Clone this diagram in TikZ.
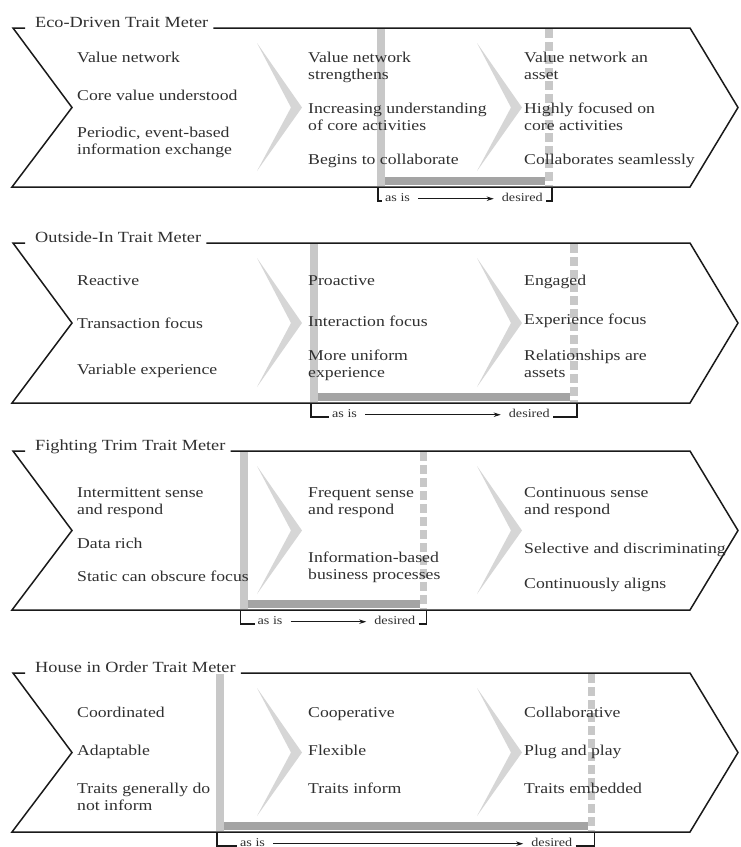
\documentclass[tikz,border=0pt]{standalone}
\usepackage{fontspec}
\setmainfont{Liberation Serif}[FakeStretch=1.18]
\usetikzlibrary{arrows.meta,calc}

\definecolor{inkline}{HTML}{1A1A1A}
\definecolor{inktext}{HTML}{303030}
\definecolor{chevgray}{HTML}{D6D6D6}
\definecolor{barlight}{HTML}{C8C8C8}
\definecolor{bardark}{HTML}{A4A4A4}

\tikzset{
  frame/.style={draw=inkline, line width=1.5pt, line join=miter},
  chev/.style={fill=chevgray},
  asisbar/.style={fill=barlight},
  spanbar/.style={fill=bardark},
  desiredbar/.style={draw=barlight, line width=7.5pt, dash pattern=on 9pt off 4pt},
  bracketline/.style={draw=inkline, line width=1.4pt},
  progress/.style={draw=inkline, line width=1.3pt, -{Stealth[length=7pt,width=4.5pt]}},
  metertitle/.style={anchor=base west, inner sep=0pt, text=inktext, font=\fontsize{15.5}{18}\selectfont},
  % the base of a two-line entry is the baseline of its last line
  trait/.style={anchor=base west, inner sep=0pt, align=left, text=inktext, font=\fontsize{15}{17.5}\selectfont},
  meterlabel/.style={inner sep=0pt, text=inktext, font=\fontsize{12}{14}\selectfont},
}

% One trait meter: outline, chevrons, as-is bar and the as is -> desired bracket.
% #1 name, #2 top, #3 bottom, #4 title, #5 as-is x, #6 desired x, #7 left gap, #8 right gap
\newcommand\meterframe[8]{%
  \node[metertitle] (#1title) at (35,{#2-1}) {#4};
  \draw[frame] ($(#1title.base east)+(5,1)$) -- (690,#2) -- (738,{(#2+#3)/2})
    -- (690,#3) -- (12,#3) -- (72,{(#2+#3)/2}) -- (13,#2) -- (25,#2);
  \fill[chev] (257,{#2+15}) -- (302,{(#2+#3)/2}) -- (257,{#3-16}) -- (291,{(#2+#3)/2}) -- cycle;
  \fill[chev] (477,{#2+15}) -- (522,{(#2+#3)/2}) -- (477,{#3-16}) -- (511,{(#2+#3)/2}) -- cycle;
  \fill[asisbar] ({#5-4},{#2+1}) rectangle ({#5+4},{#3-1});
  \fill[spanbar] ({#5+4},{#3-10}) rectangle ({#6-4},{#3-2});
  \draw[desiredbar] (#6,{#2+1}) -- (#6,{#3-1});
  \node[meterlabel, anchor=base west] (#1asis) at ({#5-3+#7},{#3+14}) {as is};
  \node[meterlabel, anchor=base east] (#1desired) at ({#6+3-#8},{#3+14}) {desired};
  \draw[bracketline] ({#5-3},{#3+1}) -- ({#5-3},{#3+14}) -- ([xshift=-3pt]#1asis.base west);
  \draw[bracketline] ([xshift=3pt]#1desired.base east) -- ({#6+3},{#3+14}) -- ({#6+3},{#3+1});
  \draw[progress] ([xshift=8pt]#1asis.mid east) -- ([xshift=-8pt]#1desired.mid west);
}

\begin{document}
\begin{tikzpicture}[x=1pt,y=-1pt]
\fill[white] (0,0) rectangle (740,847);
\useasboundingbox (0,0) rectangle (740,847);

% Eco-Driven
\meterframe{p1}{28}{187}{Eco-Driven Trait Meter}{381}{549}{7}{9}
\node[trait] (p1a) at (77,62)  {Value network};
\node[trait] (p1b) at (77,100) {Core value understood};
\node[trait] (p1c) at (77,154.5) {Periodic, event-based\\information exchange};
\node[trait] (p1d) at (308,79.5)  {Value network\\strengthens};
\node[trait] (p1e) at (308,130.5) {Increasing understanding\\of core activities};
\node[trait] (p1f) at (308,164) {Begins to collaborate};
\node[trait] (p1g) at (524,79.5)  {Value network an\\asset};
\node[trait] (p1h) at (524,130.5) {Highly focused on\\core activities};
\node[trait] (p1i) at (524,164) {Collaborates seamlessly};

% Outside-In
\meterframe{p2}{243}{403}{Outside-In Trait Meter}{314}{574}{21}{27}
\node[trait] (p2a) at (77,285) {Reactive};
\node[trait] (p2b) at (77,328) {Transaction focus};
\node[trait] (p2c) at (77,374) {Variable experience};
\node[trait] (p2d) at (308,285) {Proactive};
\node[trait] (p2e) at (308,326) {Interaction focus};
\node[trait] (p2f) at (308,377.5) {More uniform\\experience};
\node[trait] (p2g) at (524,285) {Engaged};
\node[trait] (p2h) at (524,324) {Experience focus};
\node[trait] (p2i) at (524,377.5) {Relationships are\\assets};

% Fighting Trim
\meterframe{p3}{451}{610}{Fighting Trim Trait Meter}{243.5}{423.5}{17}{11}
\node[trait] (p3a) at (77,514.5) {Intermittent sense\\and respond};
\node[trait] (p3b) at (77,548) {Data rich};
\node[trait] (p3c) at (77,581) {Static can obscure focus};
\node[trait] (p3d) at (308,514.5) {Frequent sense\\and respond};
\node[trait] (p3e) at (308,579.5) {Information-based\\business processes};
\node[trait] (p3g) at (524,514.5) {Continuous sense\\and respond};
\node[trait] (p3h) at (524,553) {Selective and discriminating};
\node[trait] (p3i) at (524,588) {Continuously aligns};

% House in Order
\meterframe{p4}{673}{832}{House in Order Trait Meter}{220}{591.5}{23}{22}
\node[trait] (p4a) at (77,717) {Coordinated};
\node[trait] (p4b) at (77,755) {Adaptable};
\node[trait] (p4c) at (77,810.5) {Traits generally do\\not inform};
\node[trait] (p4d) at (308,717) {Cooperative};
\node[trait] (p4e) at (308,755) {Flexible};
\node[trait] (p4f) at (308,793) {Traits inform};
\node[trait] (p4g) at (524,717) {Collaborative};
\node[trait] (p4h) at (524,755) {Plug and play};
\node[trait] (p4i) at (524,793) {Traits embedded};
\end{tikzpicture}
\end{document}
